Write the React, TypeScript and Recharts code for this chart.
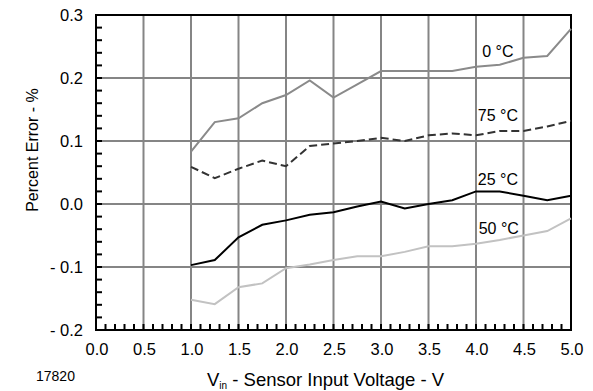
import React from 'react';
import { LineChart, Line, XAxis, YAxis, CartesianGrid, ReferenceArea, ReferenceDot, Label } from 'recharts';

// input voltage (V)
const voltages = [1.0, 1.25, 1.5, 1.75, 2.0, 2.25, 2.5, 2.75, 3.0, 3.25, 3.5, 3.75, 4.0, 4.25, 4.5, 4.75, 5.0];

// percent error per temperature
const err0C = [0.083, 0.13, 0.136, 0.16, 0.173, 0.196, 0.169, 0.19, 0.211, 0.211, 0.211, 0.211, 0.218, 0.221, 0.232, 0.235, 0.278];
const err75C = [0.059, 0.041, 0.056, 0.069, 0.06, 0.092, 0.096, 0.1, 0.105, 0.1, 0.109, 0.112, 0.109, 0.116, 0.116, 0.123, 0.132];
const err25C = [-0.097, -0.089, -0.053, -0.033, -0.026, -0.017, -0.013, -0.004, 0.004, -0.007, 0.0, 0.006, 0.02, 0.02, 0.013, 0.006, 0.013];
const err50C = [-0.152, -0.159, -0.132, -0.126, -0.102, -0.096, -0.089, -0.083, -0.083, -0.076, -0.067, -0.067, -0.063, -0.057, -0.05, -0.043, -0.023];

const xMajorTicks = [0, 0.5, 1, 1.5, 2, 2.5, 3, 3.5, 4, 4.5, 5];
const xTickLabels = ['0.0', '0.5', '1.0', '1.5', '2.0', '2.5', '3.0', '3.5', '4.0', '4.5', '5.0'];
const yMajorTicks = [-0.2, -0.1, 0, 0.1, 0.2, 0.3];
const yTickLabels = ['- 0.2', '- 0.1', '0.0', '0.1', '0.2', '0.3'];

const curveNames = ['0 °C', '75 °C', '25 °C', '50 °C'];
const curveLabelX = [4.23, 4.23, 4.23, 4.24];
const curveLabelY = [0.243, 0.14, 0.039, -0.038];

const data = voltages.map((v, i) => ({
  v,
  t0: err0C[i],
  t75: err75C[i],
  t25: err25C[i],
  t50: err50C[i],
}));

// minor tick positions
const xMinor = Array.from({ length: 51 }, (_, i) => i / 10);
const yMinor = Array.from({ length: 26 }, (_, i) => Math.round((-0.2 + i * 0.02) * 100) / 100);

const FONT = '"Liberation Sans", Arial, Helvetica, sans-serif';

const findMajor = (list: number[], v: number) => list.findIndex((t) => Math.abs(t - v) < 1e-6);

const XTick = (props: any) => {
  const { x, y, payload } = props;
  const idx = findMajor(xMajorTicks, payload.value);
  return (
    <g>
      <line x1={x} x2={x} y1={y} y2={y - 6} stroke="#000" strokeWidth={2} />
      {idx >= 0 && (
        <text x={x + 1} y={y + 13} dy="0.72em" textAnchor="middle" fontSize={16.5} fill="#000" fontFamily={FONT}>
          {xTickLabels[idx]}
        </text>
      )}
    </g>
  );
};

const YTick = (props: any) => {
  const { x, y, payload } = props;
  const idx = findMajor(yMajorTicks, payload.value);
  return (
    <g>
      <line x1={x} x2={x + 6} y1={y} y2={y} stroke="#000" strokeWidth={2} />
      {idx >= 0 && (
        <text x={x - 13} y={y} dy="0.36em" textAnchor="end" fontSize={16.5} fill="#000" fontFamily={FONT}>
          {yTickLabels[idx]}
        </text>
      )}
    </g>
  );
};

export default function App() {
  return (
    <div style={{ position: 'absolute', left: 0, top: 0, width: 593, height: 391, background: '#fff', fontFamily: FONT }}>
      <LineChart width={593} height={391} data={data} margin={{ top: 15, right: 22, left: 0, bottom: 0 }}>
        <CartesianGrid
          stroke="#858585"
          strokeWidth={2}
          horizontalValues={yMajorTicks}
          verticalValues={xMajorTicks}
        />
        <XAxis
          dataKey="v"
          type="number"
          domain={[0, 5]}
          ticks={xMinor}
          interval={0}
          height={61}
          tickSize={0}
          tickMargin={0}
          tickLine={false}
          axisLine={{ stroke: '#000', strokeWidth: 2 }}
          tick={<XTick />}
        >
          <Label
            content={() => (
              <g>
                <text x={36} y={381} fontSize={14} fill="#000" fontFamily={FONT}>17820</text>
                <text x={207} y={386} fontSize={18.5} fill="#000" fontFamily={FONT}>
                  V<tspan fontSize={10} dy={3}>in</tspan>
                  <tspan dy={-3}> - Sensor Input Voltage - V</tspan>
                </text>
              </g>
            )}
          />
        </XAxis>
        <YAxis
          type="number"
          domain={[-0.2, 0.3]}
          ticks={yMinor}
          interval={0}
          width={96}
          tickSize={0}
          tickMargin={0}
          tickLine={false}
          axisLine={{ stroke: '#000', strokeWidth: 2 }}
          tick={<YTick />}
        >
          <Label
            content={() => (
              <text
                transform="translate(38, 150) rotate(-90)"
                textAnchor="middle"
                fontSize={16}
                fill="#000"
                fontFamily={FONT}
              >
                Percent Error - %
              </text>
            )}
          />
        </YAxis>
        <ReferenceArea x1={0} x2={5} y1={-0.2} y2={0.3} fill="none" stroke="#000" strokeWidth={2} />
        <Line dataKey="t0" stroke="#8a8a8a" strokeWidth={2} dot={false} isAnimationActive={false} />
        <Line dataKey="t75" stroke="#333" strokeWidth={2} strokeDasharray="8 4" dot={false} isAnimationActive={false} />
        <Line dataKey="t25" stroke="#000" strokeWidth={2} dot={false} isAnimationActive={false} />
        <Line dataKey="t50" stroke="#c2c2c2" strokeWidth={2} dot={false} isAnimationActive={false} />
        {curveNames.map((name, i) => (
          <ReferenceDot
            key={name}
            x={curveLabelX[i]}
            y={curveLabelY[i]}
            r={0}
            fill="none"
            stroke="none"
            label={{ value: name, position: 'center', fontSize: 16, fill: '#000', fontFamily: FONT }}
          />
        ))}
      </LineChart>
    </div>
  );
}
